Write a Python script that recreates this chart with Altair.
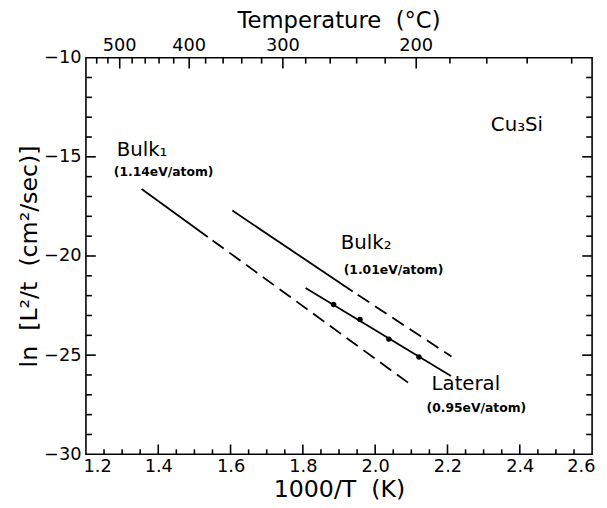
import altair as alt
import pandas as pd

FONT = "DejaVu Sans"
W, H = 513, 402
XDOM = [1.2, 2.6]
YDOM = [-30, -10]

# ---- axis tick values ----
x_major = [1.2, 1.4, 1.6, 1.8, 2.0, 2.2, 2.4, 2.6]
x_minor = [1.25, 1.3, 1.35, 1.45, 1.5, 1.55, 1.65, 1.7, 1.75, 1.85, 1.9, 1.95,
           2.05, 2.1, 2.15, 2.25, 2.3, 2.35, 2.45, 2.5, 2.55]
y_major = [-10, -15, -20, -25, -30]
y_minor = [-11, -12, -13, -14, -16, -17, -18, -19, -21, -22, -23, -24,
           -26, -27, -28, -29]
temp_major = [500, 400, 300, 200]
temp_minor = [540, 520, 480, 460, 440, 420, 380, 360, 340, 320, 280, 260,
              240, 220, 180, 160, 140, 120]

# ---- data (x = 1000/T, y = ln L^2/t) ----
bulk1_solid_x = [1.354, 1.537]
bulk1_solid_y = [-16.62, -19.04]
bulk1_dash_x = [1.537, 2.101]
bulk1_dash_y = [-19.04, -26.52]
bulk2_solid_x = [1.605, 1.938]
bulk2_solid_y = [-17.71, -21.79]
bulk2_dash_x = [1.938, 2.211]
bulk2_dash_y = [-21.79, -25.07]
lateral_x = [1.8075, 2.2097]
lateral_y = [-21.61, -26.05]
lateral_pts_x = [1.885, 1.958, 2.038, 2.121]
lateral_pts_y = [-22.45, -23.20, -24.19, -25.09]

# ---- annotation text ----
big_text = ["Bulk\u2081", "Bulk\u2082", "Cu\u2083Si", "Lateral"]
big_x = [1.285, 1.905, 2.320, 2.156]
big_y = [-14.98, -19.65, -13.68, -26.77]
small_text = ["(1.14eV/atom)", "(1.01eV/atom)", "(0.95eV/atom)"]
small_x = [1.277, 1.913, 2.142]
small_y = [-15.97, -20.90, -27.86]
top_title = "Temperature\u00a0\u00a0(\u00b0C)"

def to_inv(t):
    return 1000.0 / (t + 273.15)

temp_major_x = [to_inv(t) for t in temp_major]
temp_minor_x = [to_inv(t) for t in temp_minor]

XS = alt.Scale(domain=XDOM, nice=False, zero=False)
YS = alt.Scale(domain=YDOM, nice=False, zero=False)
PX_X = W / (XDOM[1] - XDOM[0])   # pixels per x unit
PX_Y = H / (YDOM[1] - YDOM[0])   # pixels per y unit

bottom_axis = alt.Axis(orient="bottom", values=x_major, format=".1f",
                       title="1000/T\u00a0\u00a0(K)", ticks=False, domain=False,
                       grid=False, labelFontSize=18, labelPadding=3,
                       labelFlush=True, labelFlushOffset=3,
                       titleFontSize=24, titleFontWeight="normal",
                       titleBaseline="alphabetic", titleY=43)
left_axis = alt.Axis(orient="left", values=y_major, format="d",
                     title="ln\u00a0\u00a0[L\u00b2/t\u00a0\u00a0(cm\u00b2/sec)]", ticks=False,
                     domain=False, grid=False, labelFontSize=18, labelPadding=5,
                     titleFontSize=24, titleFontWeight="normal",
                     titleBaseline="alphabetic", titleX=-50, titleY=201,
                     titleAngle=270)

def xq(field):
    return alt.X(field, type="quantitative", scale=XS, axis=bottom_axis)

def yq(field):
    return alt.Y(field, type="quantitative", scale=YS, axis=left_axis)

# ---- frame ticks: 2-point segments pointing inward from each edge ----
tick_rows = []
def add_vticks(xs, yval, length_px, tag):
    for i, xv in enumerate(xs):
        tick_rows.append({"x": xv, "y": yval, "k": f"{tag}{i}"})
        tick_rows.append({"x": xv, "y": yval + length_px / PX_Y, "k": f"{tag}{i}"})

def add_hticks(ys, xval, length_px, tag):
    for i, yv in enumerate(ys):
        tick_rows.append({"x": xval, "y": yv, "k": f"{tag}{i}"})
        tick_rows.append({"x": xval + length_px / PX_X, "y": yv, "k": f"{tag}{i}"})

add_vticks(x_major[1:-1], -30, 10, "bM")
add_vticks(x_minor, -30, 5, "bm")
add_vticks(temp_major_x, -10, -11, "tM")
add_vticks(temp_minor_x, -10, -6, "tm")
add_hticks(y_major[1:-1], 1.2, 10, "lM")
add_hticks(y_minor, 1.2, 6, "lm")
add_hticks(y_major[1:-1], 2.6, -10, "rM")
add_hticks(y_minor, 2.6, -6, "rm")
df_ticks = pd.DataFrame(tick_rows)

ticks_l = alt.Chart(df_ticks).mark_line(color="black", strokeWidth=1.6).encode(
    x=xq("x"), y=yq("y"), detail="k:N")

# ---- top temperature labels and title as text on the top edge ----
df_top = pd.DataFrame({"x": temp_major_x, "y": [YDOM[1]] * len(temp_major),
                       "t": [str(t) for t in temp_major]})
top_lbl = alt.Chart(df_top).mark_text(baseline="alphabetic", align="center", dy=-7,
                                      fontSize=18, font=FONT, color="black").encode(
    x=xq("x"), y=yq("y"), text="t:N")
df_ttl = pd.DataFrame({"x": [(XDOM[0] + XDOM[1]) / 2], "y": [YDOM[1]], "t": [top_title]})
top_ttl = alt.Chart(df_ttl).mark_text(baseline="alphabetic", align="center", dy=-30,
                                      fontSize=23, font=FONT, color="black").encode(
    x=xq("x"), y=yq("y"), text="t:N")

solid = pd.concat([
    pd.DataFrame({"x": bulk1_solid_x, "y": bulk1_solid_y, "seg": "b1"}),
    pd.DataFrame({"x": bulk2_solid_x, "y": bulk2_solid_y, "seg": "b2"}),
    pd.DataFrame({"x": lateral_x, "y": lateral_y, "seg": "lat"}),
])
dashed = pd.concat([
    pd.DataFrame({"x": bulk1_dash_x, "y": bulk1_dash_y, "seg": "b1d"}),
    pd.DataFrame({"x": bulk2_dash_x, "y": bulk2_dash_y, "seg": "b2d"}),
])
pts = pd.DataFrame({"x": lateral_pts_x, "y": lateral_pts_y})

solid_l = alt.Chart(solid).mark_line(color="black", strokeWidth=1.8).encode(
    x=xq("x"), y=yq("y"), detail="seg:N")
dash_l = alt.Chart(dashed).mark_line(color="black", strokeWidth=1.8,
                                     strokeDash=[14, 7], strokeDashOffset=15).encode(
    x=xq("x"), y=yq("y"), detail="seg:N")
pts_l = alt.Chart(pts).mark_circle(color="black", size=30, opacity=1).encode(
    x=xq("x"), y=yq("y"))

df_big = pd.DataFrame({"x": big_x, "y": big_y, "t": big_text})
df_small = pd.DataFrame({"x": small_x, "y": small_y, "t": small_text})
big_l = alt.Chart(df_big).mark_text(align="left", baseline="alphabetic", fontSize=20,
                                    font=FONT, color="black").encode(
    x=xq("x"), y=yq("y"), text="t:N")
small_l = alt.Chart(df_small).mark_text(align="left", baseline="alphabetic", fontSize=12.5,
                                        fontWeight="bold", font=FONT, color="black").encode(
    x=xq("x"), y=yq("y"), text="t:N")

chart = alt.layer(
    solid_l, dash_l, pts_l, ticks_l, top_lbl, top_ttl, big_l, small_l
).properties(
    width=W, height=H, autosize="none",
    padding={"left": 79, "top": 47, "right": 7, "bottom": 45},
    background="white",
).configure_view(stroke="black", strokeWidth=1.6).configure_axis(
    labelFont=FONT, titleFont=FONT, labelColor="black", titleColor="black"
)

chart.save("out.html", embed_options={"renderer": "svg", "actions": False})
